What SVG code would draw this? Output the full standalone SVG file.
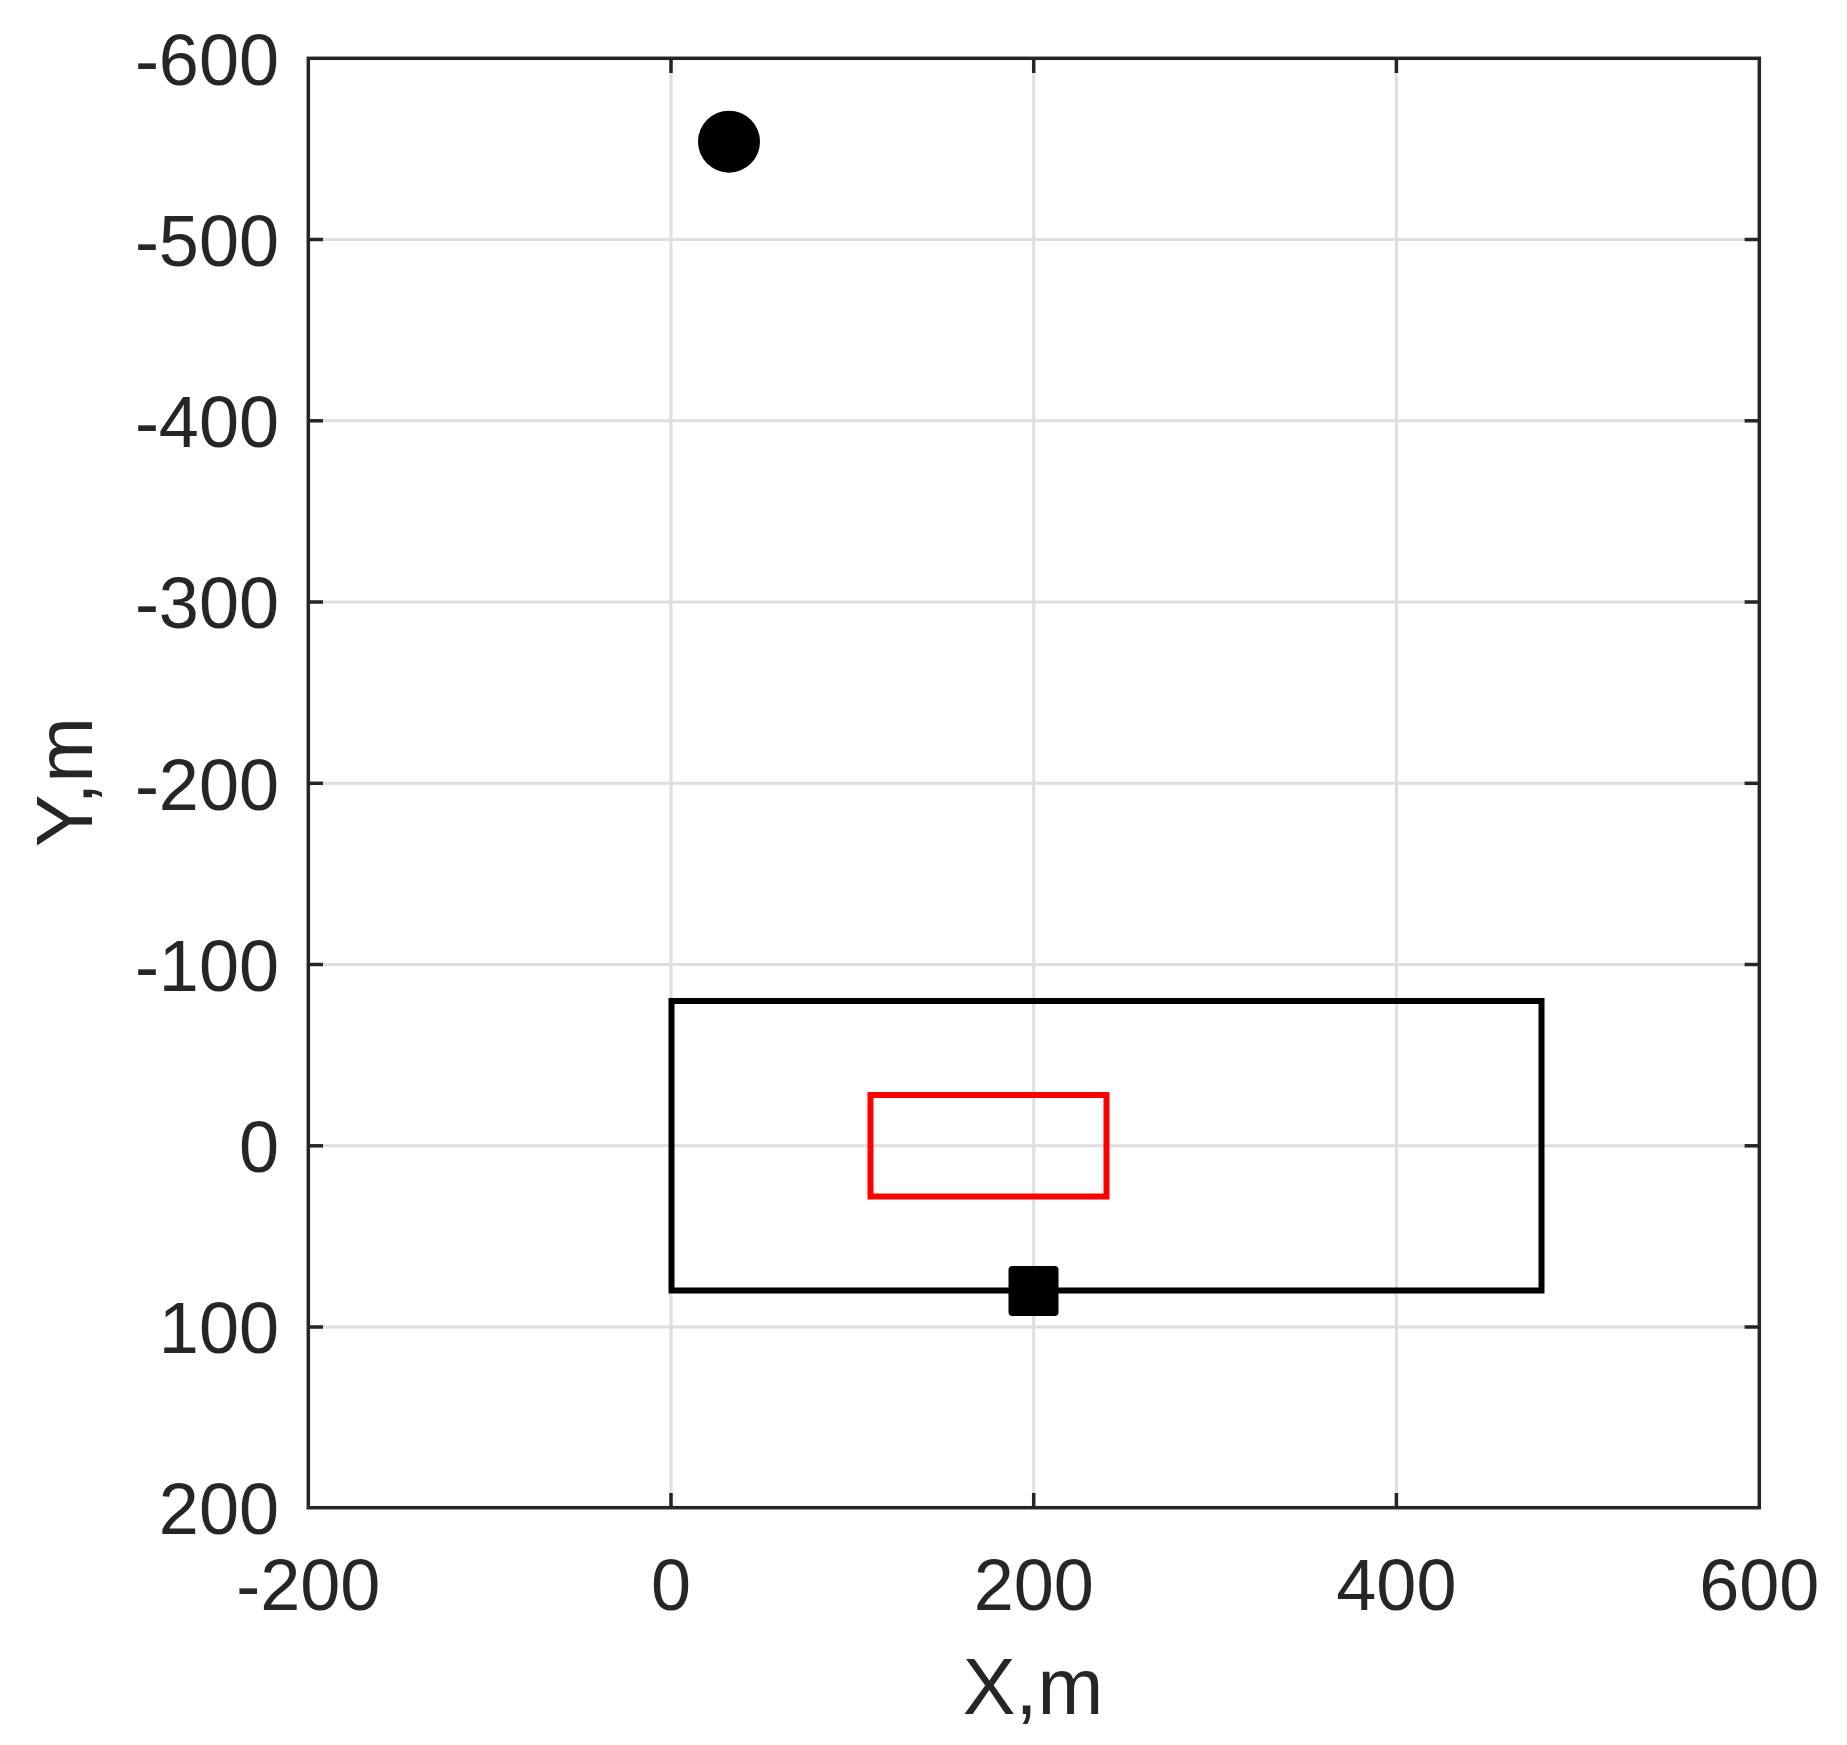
<svg xmlns="http://www.w3.org/2000/svg" width="1847" height="1745" viewBox="0 0 1847 1745">
<style>
.grid{stroke:#dedede;stroke-width:3;fill:none}
.axis{stroke:#262626;stroke-width:3.5;fill:none}
.tick{stroke:#262626;stroke-width:3.5}
.lbl{font-family:"Liberation Sans",Arial,sans-serif;font-size:72px;fill:#262626}
.ylbl{text-anchor:end}
.xlbl{text-anchor:middle}
.title{font-family:"Liberation Sans",Arial,sans-serif;font-size:79px;fill:#262626;text-anchor:middle}
</style>
<rect width="1847" height="1745" fill="#ffffff"/>
<g id="grid">
<line class="grid" x1="671" y1="58.3" x2="671" y2="1507.7"/>
<line class="grid" x1="1033.7" y1="58.3" x2="1033.7" y2="1507.7"/>
<line class="grid" x1="1396.4" y1="58.3" x2="1396.4" y2="1507.7"/>
<line class="grid" x1="308.3" y1="239.5" x2="1759.3" y2="239.5"/>
<line class="grid" x1="308.3" y1="420.8" x2="1759.3" y2="420.8"/>
<line class="grid" x1="308.3" y1="602" x2="1759.3" y2="602"/>
<line class="grid" x1="308.3" y1="783.3" x2="1759.3" y2="783.3"/>
<line class="grid" x1="308.3" y1="964.5" x2="1759.3" y2="964.5"/>
<line class="grid" x1="308.3" y1="1145.8" x2="1759.3" y2="1145.8"/>
<line class="grid" x1="308.3" y1="1327" x2="1759.3" y2="1327"/>
</g>
<g id="ticks">
<line class="tick" x1="308.3" y1="239.5" x2="323" y2="239.5"/>
<line class="tick" x1="308.3" y1="420.8" x2="323" y2="420.8"/>
<line class="tick" x1="308.3" y1="602" x2="323" y2="602"/>
<line class="tick" x1="308.3" y1="783.3" x2="323" y2="783.3"/>
<line class="tick" x1="308.3" y1="964.5" x2="323" y2="964.5"/>
<line class="tick" x1="308.3" y1="1145.8" x2="323" y2="1145.8"/>
<line class="tick" x1="308.3" y1="1327" x2="323" y2="1327"/>
<line class="tick" x1="1744.6" y1="239.5" x2="1759.3" y2="239.5"/>
<line class="tick" x1="1744.6" y1="420.8" x2="1759.3" y2="420.8"/>
<line class="tick" x1="1744.6" y1="602" x2="1759.3" y2="602"/>
<line class="tick" x1="1744.6" y1="783.3" x2="1759.3" y2="783.3"/>
<line class="tick" x1="1744.6" y1="964.5" x2="1759.3" y2="964.5"/>
<line class="tick" x1="1744.6" y1="1145.8" x2="1759.3" y2="1145.8"/>
<line class="tick" x1="1744.6" y1="1327" x2="1759.3" y2="1327"/>
<line class="tick" x1="671" y1="1507.7" x2="671" y2="1493"/>
<line class="tick" x1="1033.7" y1="1507.7" x2="1033.7" y2="1493"/>
<line class="tick" x1="1396.4" y1="1507.7" x2="1396.4" y2="1493"/>
<line class="tick" x1="671" y1="58.3" x2="671" y2="73"/>
<line class="tick" x1="1033.7" y1="58.3" x2="1033.7" y2="73"/>
<line class="tick" x1="1396.4" y1="58.3" x2="1396.4" y2="73"/>
</g>
<g id="axes">
<rect class="axis" x="308.3" y="58.3" width="1451" height="1449.4"/>
</g>
<g id="labels">
<text class="lbl ylbl" x="279" y="85">-600</text>
<text class="lbl ylbl" x="279" y="266">-500</text>
<text class="lbl ylbl" x="279" y="447">-400</text>
<text class="lbl ylbl" x="279" y="628">-300</text>
<text class="lbl ylbl" x="279" y="810">-200</text>
<text class="lbl ylbl" x="279" y="991">-100</text>
<text class="lbl ylbl" x="279" y="1172">0</text>
<text class="lbl ylbl" x="279" y="1353">100</text>
<text class="lbl ylbl" x="279" y="1534">200</text>
<text class="lbl xlbl" x="308.3" y="1610">-200</text>
<text class="lbl xlbl" x="671" y="1610">0</text>
<text class="lbl xlbl" x="1033.7" y="1610">200</text>
<text class="lbl xlbl" x="1396.4" y="1610">400</text>
<text class="lbl xlbl" x="1759.3" y="1610">600</text>
<text class="title" x="1033" y="1714">X,m</text>
<text class="title" transform="translate(92,782) rotate(-90)">Y,m</text>
</g>
<g id="outer-rect">
<rect x="671.5" y="1001" width="870" height="289.5" fill="none" stroke="#000" stroke-width="6"/>
</g>
<g id="red-rect">
<rect x="870.5" y="1095" width="236" height="101.5" fill="none" stroke="#ff0000" stroke-width="6"/>
</g>
<g id="circle-marker">
<circle cx="729" cy="141.7" r="31" fill="#000"/>
</g>
<g id="square-marker">
<rect x="1008.5" y="1266" width="50" height="50" rx="4" fill="#000"/>
</g>
</svg>
